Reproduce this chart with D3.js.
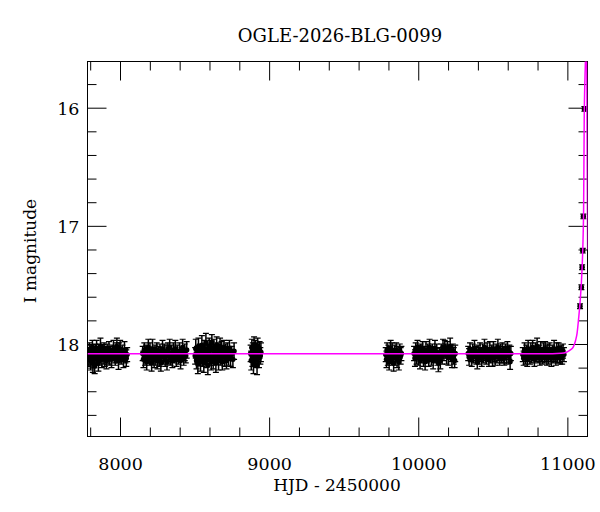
<!DOCTYPE html>
<html>
<head>
<meta charset="utf-8">
<script src="https://cdn.jsdelivr.net/npm/d3@7/dist/d3.min.js"></script>
<style>
body { margin: 0; background: #fff; }
svg text { font-family: "DejaVu Serif", serif; fill: #000; }
</style>
</head>
<body>
<div id="chart"></div>
<script>
var title = "OGLE-2026-BLG-0099";
var xLabel = "HJD - 2450000";
var yLabel = "I magnitude";

var xMajor = [8000, 9000, 10000, 11000];
var xMinor = [7800, 8200, 8400, 8600, 8800, 9200, 9400, 9600, 9800, 10200, 10400, 10600, 10800];
var yMajor = [16, 17, 18];
var yMinor = [15.8, 16.2, 16.4, 16.6, 16.8, 17.2, 17.4, 17.6, 17.8, 18.2, 18.4, 18.6];

// [HJD-2450000, I mag, error]
var season1 = [[7786,18.09,0.06],[7791,18.12,0.07],[7795,18.05,0.06],[7799,18.10,0.07],[7803,18.14,0.08],[7806,18.07,0.06],[7811,18.11,0.07],[7815,18.03,0.06],[7818,18.16,0.08],[7822,18.08,0.06],[7827,18.13,0.07],[7830,18.18,0.07],[7834,18.06,0.06],[7839,18.10,0.07],[7843,18.04,0.07],[7846,18.12,0.06],[7851,18.09,0.07],[7855,18.15,0.08],[7860,18.06,0.06],[7864,18.11,0.07],[7869,18.02,0.07],[7873,18.08,0.06],[7878,18.13,0.07],[7882,18.07,0.06],[7887,18.10,0.07],[7893,18.05,0.06],[7898,18.12,0.07],[7903,18.08,0.06],[7909,18.14,0.07],[7914,18.06,0.06],[7920,18.10,0.07],[7926,18.04,0.06],[7931,18.11,0.07],[7937,18.08,0.06],[7943,18.13,0.07],[7950,18.07,0.06],[7956,18.05,0.08],[7962,18.09,0.07],[7968,18.12,0.06],[7975,18.06,0.07],[7979,18.02,0.07],[7984,18.10,0.06],[7990,18.14,0.075],[7994,18.07,0.08],[8001,18.04,0.07],[8008,18.11,0.06],[8016,18.08,0.07],[8023,18.13,0.07],[8030,18.05,0.07],[8036,18.10,0.06],[8042,18.12,0.07],[8048,18.09,0.06]];
var season2 = [[8152,18.08,0.06],[8157,18.13,0.07],[8163,18.05,0.06],[8168,18.11,0.07],[8174,18.07,0.06],[8179,18.15,0.07],[8185,18.09,0.06],[8190,18.03,0.07],[8196,18.12,0.06],[8201,18.06,0.07],[8207,18.10,0.06],[8212,18.16,0.07],[8218,18.04,0.08],[8223,18.09,0.06],[8229,18.13,0.07],[8234,18.07,0.06],[8240,18.11,0.07],[8246,18.05,0.06],[8251,18.14,0.07],[8257,18.08,0.06],[8263,18.12,0.07],[8268,18.06,0.06],[8274,18.16,0.07],[8280,18.09,0.06],[8285,18.04,0.07],[8291,18.11,0.06],[8297,18.07,0.07],[8303,18.13,0.06],[8309,18.08,0.07],[8315,18.15,0.07],[8321,18.05,0.06],[8327,18.10,0.07],[8333,18.03,0.07],[8339,18.12,0.06],[8345,18.08,0.07],[8351,18.14,0.06],[8358,18.06,0.07],[8364,18.10,0.06],[8371,18.04,0.07],[8378,18.13,0.06],[8385,18.08,0.07],[8392,18.11,0.06],[8399,18.06,0.07],[8406,18.14,0.07],[8413,18.09,0.06],[8420,18.03,0.07],[8427,18.12,0.06],[8434,18.07,0.07],[8441,18.10,0.06],[8447,18.05,0.07]];
var season3 = [[8504,18.10,0.07],[8508,18.04,0.08],[8513,18.14,0.07],[8517,18.08,0.06],[8522,18.17,0.08],[8526,18.02,0.07],[8531,18.11,0.07],[8535,18.06,0.06],[8540,18.15,0.08],[8544,18.09,0.07],[8549,18.01,0.08],[8553,18.12,0.07],[8558,18.07,0.06],[8562,18.16,0.08],[8567,18.04,0.07],[8571,18.10,0.07],[8576,17.99,0.08],[8580,18.13,0.07],[8585,18.06,0.06],[8589,18.18,0.08],[8594,18.08,0.07],[8598,18.02,0.07],[8603,18.12,0.06],[8607,18.05,0.08],[8612,18.15,0.07],[8616,17.99,0.07],[8621,18.09,0.06],[8625,18.13,0.08],[8630,18.03,0.07],[8634,18.11,0.07],[8639,18.07,0.06],[8643,18.16,0.08],[8648,18.01,0.07],[8652,18.10,0.07],[8657,18.05,0.06],[8661,18.14,0.08],[8666,18.08,0.07],[8671,18.02,0.07],[8676,18.12,0.06],[8681,18.06,0.08],[8686,18.15,0.07],[8691,18.09,0.07],[8697,18.03,0.06],[8702,18.11,0.08],[8708,18.07,0.07],[8714,18.14,0.07],[8720,18.05,0.06],[8727,18.10,0.08],[8734,18.04,0.07],[8741,18.12,0.07],[8749,18.08,0.06],[8757,18.13,0.07],[8765,18.06,0.07]];
var season4 = [[8876,18.08,0.07],[8880,18.14,0.08],[8884,18.03,0.07],[8888,18.11,0.08],[8891,18.06,0.07],[8895,18.17,0.08],[8899,18.01,0.07],[8903,18.10,0.07],[8907,18.05,0.08],[8911,18.13,0.07],[8915,18.07,0.08],[8919,18.18,0.08],[8923,18.02,0.07],[8927,18.09,0.07],[8932,18.12,0.08],[8936,18.05,0.07],[8941,18.10,0.07],[8945,18.07,0.08]];
var season5 = [[9782,18.09,0.06],[9787,18.13,0.07],[9791,18.05,0.06],[9796,18.11,0.07],[9800,18.07,0.06],[9805,18.15,0.07],[9810,18.08,0.06],[9815,18.04,0.07],[9820,18.12,0.06],[9825,18.06,0.07],[9830,18.10,0.06],[9835,18.16,0.07],[9840,18.07,0.06],[9846,18.11,0.07],[9852,18.05,0.06],[9858,18.13,0.07],[9864,18.08,0.06],[9870,18.15,0.07],[9876,18.06,0.06],[9882,18.10,0.07],[9887,18.08,0.06]];
var season6 = [[9972,18.08,0.06],[9978,18.12,0.07],[9983,18.05,0.06],[9989,18.10,0.07],[9995,18.03,0.06],[10000,18.11,0.07],[10006,18.07,0.06],[10012,18.14,0.07],[10017,18.06,0.06],[10023,18.09,0.07],[10029,18.04,0.06],[10035,18.12,0.07],[10040,18.08,0.06],[10046,18.15,0.07],[10052,18.05,0.07],[10058,18.10,0.06],[10064,18.07,0.07],[10070,18.13,0.06],[10076,18.03,0.07],[10082,18.09,0.06],[10088,18.11,0.07],[10094,18.06,0.06],[10100,18.14,0.07],[10106,18.08,0.06],[10112,18.04,0.07],[10118,18.10,0.06],[10124,18.07,0.07],[10130,18.12,0.06],[10135,18.16,0.075],[10142,18.09,0.06],[10148,18.14,0.07],[10154,18.06,0.06],[10160,18.10,0.07],[10166,18.03,0.07],[10172,18.08,0.06],[10178,18.03,0.06],[10184,18.06,0.06],[10190,18.10,0.07],[10196,18.04,0.06],[10202,18.11,0.07],[10208,18.07,0.06],[10214,18.02,0.07],[10220,18.09,0.06],[10226,18.13,0.07],[10232,18.06,0.06],[10238,18.10,0.07],[10244,18.14,0.06],[10248,18.08,0.07]];
var season7 = [[10335,18.08,0.06],[10341,18.11,0.07],[10347,18.05,0.06],[10353,18.09,0.06],[10359,18.12,0.07],[10365,18.06,0.06],[10371,18.10,0.06],[10377,18.04,0.07],[10383,18.08,0.06],[10390,18.11,0.06],[10396,18.15,0.06],[10402,18.07,0.06],[10408,18.10,0.07],[10414,18.05,0.06],[10420,18.09,0.06],[10426,18.12,0.07],[10432,18.06,0.06],[10438,18.10,0.06],[10444,18.03,0.07],[10450,18.08,0.06],[10456,18.11,0.06],[10462,18.06,0.07],[10468,18.09,0.06],[10474,18.13,0.06],[10480,18.05,0.07],[10486,18.10,0.06],[10492,18.07,0.06],[10498,18.12,0.07],[10504,18.04,0.06],[10510,18.09,0.06],[10516,18.11,0.07],[10522,18.06,0.06],[10528,18.10,0.06],[10534,18.03,0.07],[10540,18.08,0.06],[10546,18.12,0.06],[10552,18.07,0.07],[10558,18.10,0.06],[10564,18.05,0.06],[10570,18.09,0.07],[10577,18.12,0.06],[10584,18.06,0.06],[10591,18.10,0.07],[10598,18.04,0.06],[10605,18.09,0.07],[10611,18.07,0.06],[10616,18.15,0.065],[10621,18.08,0.06]];
var season8 = [[10701,18.09,0.06],[10707,18.12,0.06],[10713,18.05,0.06],[10719,18.10,0.07],[10725,18.07,0.06],[10731,18.13,0.06],[10737,18.04,0.07],[10743,18.09,0.06],[10749,18.11,0.06],[10755,18.06,0.07],[10761,18.10,0.06],[10767,18.03,0.06],[10773,18.08,0.06],[10779,18.12,0.07],[10785,18.05,0.06],[10791,18.09,0.06],[10797,18.02,0.07],[10803,18.10,0.06],[10809,18.07,0.06],[10815,18.12,0.06],[10821,18.05,0.07],[10827,18.09,0.06],[10833,18.11,0.06],[10839,18.06,0.07],[10845,18.10,0.06],[10851,18.04,0.06],[10857,18.08,0.07],[10863,18.12,0.06],[10869,18.06,0.06],[10875,18.10,0.07],[10881,18.05,0.06],[10887,18.09,0.06],[10893,18.12,0.07],[10899,18.07,0.06],[10905,18.10,0.06],[10911,18.04,0.07],[10917,18.09,0.06],[10923,18.12,0.06],[10929,18.06,0.07],[10935,18.10,0.06],[10941,18.05,0.06],[10947,18.09,0.07],[10953,18.11,0.06],[10959,18.07,0.06],[10965,18.10,0.07],[10971,18.06,0.06],[10977,18.09,0.06]];
var rising = [[11085,17.68,0.02],[11094,17.52,0.02],[11099,17.35,0.02],[11103,17.21,0.02],[11107,16.92,0.02],[11114,16.01,0.02]];

// model curve
var modelT   = [7782, 10900, 10960, 10990, 11020, 11040, 11055, 11065, 11075, 11085, 11094, 11100, 11105, 11109, 11113, 11118, 11122, 11126, 11130, 11133, 11136];
var modelMag = [18.082, 18.082, 18.079, 18.072, 18.05, 18.025, 17.97, 17.91, 17.79, 17.65, 17.48, 17.32, 17.12, 16.85, 16.1, 15.75, 15.55, 15.2, 15.6, 16.5, 17.2];

var margin = {top: 61.5, left: 87.5},
    width = 500,
    height = 375;

var svg = d3.select("#chart").append("svg")
    .attr("width", 600)
    .attr("height", 512);

var x = d3.scaleLinear().domain([7782, 11135]).range([0, width]);
var y = d3.scaleLinear().domain([18.783, 15.609]).range([height, 0]);

var g = svg.append("g")
    .attr("transform", "translate(" + margin.left + "," + margin.top + ")");

g.append("defs").append("clipPath")
    .attr("id", "clip")
    .append("rect")
    .attr("width", width)
    .attr("height", height);

function styleAxis(sel) {
    sel.select(".domain").remove();
    sel.selectAll("line").attr("stroke", "#000");
    sel.attr("font-family", null).attr("font-size", null);
}

function ticks(axis, vals, size, labels) {
    return axis.tickValues(vals).tickSize(-size).tickSizeOuter(0)
        .tickFormat(labels ? d3.format("d") : "");
}

// bottom
g.append("g").attr("transform", "translate(0," + height + ")")
    .call(ticks(d3.axisBottom(x), xMajor, 19, true)).call(styleAxis)
    .selectAll("text").attr("y", 33.5).attr("dy", 0).style("font-size", "17.5px");
g.append("g").attr("transform", "translate(0," + height + ")")
    .call(ticks(d3.axisBottom(x), xMinor, 9, false)).call(styleAxis);
// top
g.append("g").call(ticks(d3.axisTop(x), xMajor, 19, false)).call(styleAxis);
g.append("g").call(ticks(d3.axisTop(x), xMinor, 9, false)).call(styleAxis);
// left
g.append("g")
    .call(ticks(d3.axisLeft(y), yMajor, 19, true).tickPadding(8)).call(styleAxis)
    .selectAll("text").attr("dy", "0.38em").style("font-size", "17.5px");
g.append("g").call(ticks(d3.axisLeft(y), yMinor, 9, false)).call(styleAxis);
// right
g.append("g").attr("transform", "translate(" + width + ",0)")
    .call(ticks(d3.axisRight(y), yMajor, 19, false)).call(styleAxis);
g.append("g").attr("transform", "translate(" + width + ",0)")
    .call(ticks(d3.axisRight(y), yMinor, 9, false)).call(styleAxis);

g.append("rect")
    .attr("width", width)
    .attr("height", height)
    .attr("fill", "none")
    .attr("stroke", "#000")
    .attr("stroke-width", 1);

var points = [].concat(season1, season2, season3, season4, season5, season6, season7, season8, rising);

var plot = g.append("g").attr("clip-path", "url(#clip)");

var pts = plot.selectAll(".pt")
    .data(points)
    .enter().append("g")
    .attr("class", "pt");

pts.append("line")
    .attr("x1", function (d) { return x(d[0]); })
    .attr("x2", function (d) { return x(d[0]); })
    .attr("y1", function (d) { return y(d[1] - d[2]); })
    .attr("y2", function (d) { return y(d[1] + d[2]); })
    .attr("stroke", "#000")
    .attr("stroke-width", 1.5);

pts.selectAll(".cap")
    .data(function (d) { return [[d[0], d[1] - d[2]], [d[0], d[1] + d[2]]]; })
    .enter().append("line")
    .attr("class", "cap")
    .attr("x1", function (d) { return x(d[0]) - 3; })
    .attr("x2", function (d) { return x(d[0]) + 3; })
    .attr("y1", function (d) { return y(d[1]); })
    .attr("y2", function (d) { return y(d[1]); })
    .attr("stroke", "#000")
    .attr("stroke-width", 1.2);

pts.append("circle")
    .attr("cx", function (d) { return x(d[0]); })
    .attr("cy", function (d) { return y(d[1]); })
    .attr("r", 2.7)
    .attr("fill", "#000");

var line = d3.line()
    .curve(d3.curveMonotoneX)
    .x(function (d, i) { return x(modelT[i]); })
    .y(function (d) { return y(d); });

plot.append("path")
    .datum(modelMag)
    .attr("d", line)
    .attr("fill", "none")
    .attr("stroke", "#ff00ff")
    .attr("stroke-width", 1.5);

svg.append("text")
    .attr("x", 340)
    .attr("y", 42)
    .attr("text-anchor", "middle")
    .style("font-size", "18px")
    .text(title);

svg.append("text")
    .attr("x", 337)
    .attr("y", 491)
    .attr("text-anchor", "middle")
    .style("font-size", "17px")
    .text(xLabel);

svg.append("text")
    .attr("transform", "translate(36,251) rotate(-90)")
    .attr("text-anchor", "middle")
    .style("font-size", "17px")
    .text(yLabel);
</script>
</body>
</html>
